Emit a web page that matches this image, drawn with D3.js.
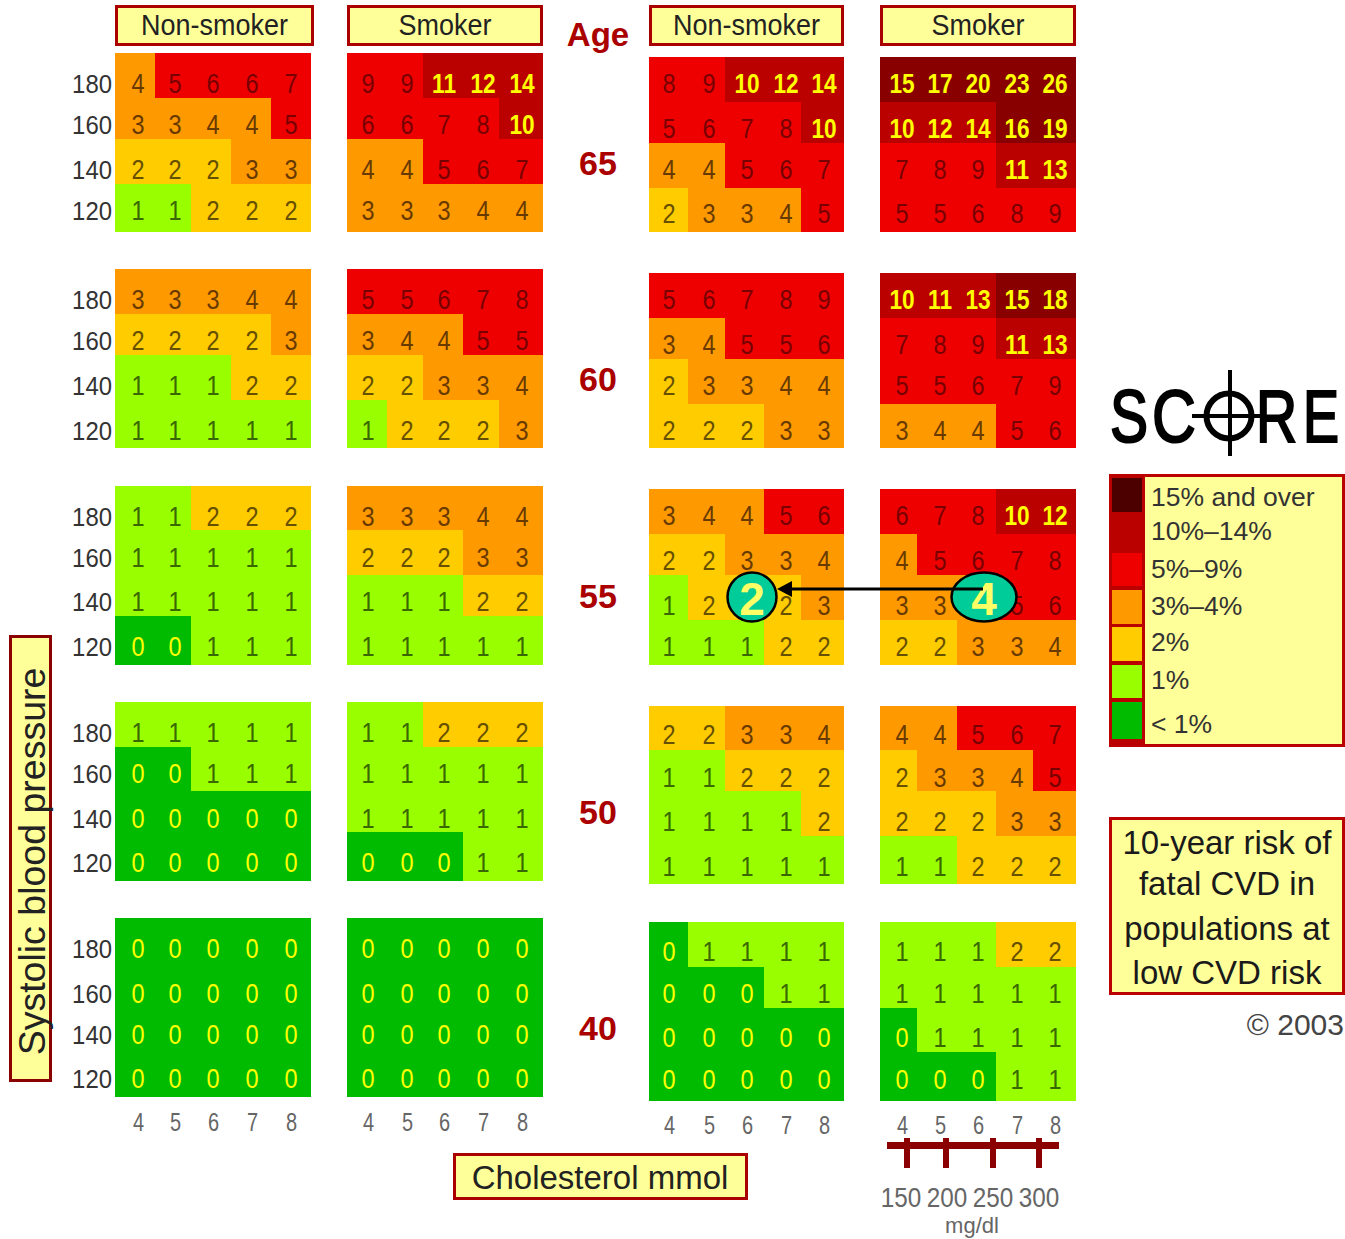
<!DOCTYPE html>
<html><head><meta charset="utf-8">
<script src="https://cdn.jsdelivr.net/npm/d3@7"></script>
<style>
html,body{margin:0;padding:0;background:#fff}
svg{display:block}
text{font-family:"Liberation Sans",Arial,sans-serif}
</style></head><body>
<svg id="c" width="1345" height="1239"></svg>
<script>
// ---------- data ----------
const ages = [65, 60, 55, 50, 40];
const sbpTicks = [180, 160, 140, 120];
const cholTicks = [4, 5, 6, 7, 8];
const mgTicks = [150, 200, 250, 300];
const headerLabels = ["Non-smoker", "Smoker", "Non-smoker", "Smoker"];
const legendLabels = ["15% and over", "10%\u201314%", "5%\u20139%", "3%\u20134%", "2%", "1%", "< 1%"];
const riskThresholds = [1, 2, 3, 5, 10, 15];
const riskColors = ["#00bb00", "#99ff00", "#ffcc00", "#ff9900", "#ee0000", "#bb0000", "#880000"];
const legendColors = ["#4d0000", "#bb0000", "#ee0000", "#ff9900", "#ffcc00", "#99ff00", "#00bb00"];
const titleLines = ["10-year risk of", "fatal CVD in", "populations at", "low CVD risk"];

const a_nonsmoker_65 = [[4,5,6,6,7],[3,3,4,4,5],[2,2,2,3,3],[1,1,2,2,2]];
const a_nonsmoker_60 = [[3,3,3,4,4],[2,2,2,2,3],[1,1,1,2,2],[1,1,1,1,1]];
const a_nonsmoker_55 = [[1,1,2,2,2],[1,1,1,1,1],[1,1,1,1,1],[0,0,1,1,1]];
const a_nonsmoker_50 = [[1,1,1,1,1],[0,0,1,1,1],[0,0,0,0,0],[0,0,0,0,0]];
const a_nonsmoker_40 = [[0,0,0,0,0],[0,0,0,0,0],[0,0,0,0,0],[0,0,0,0,0]];

const a_smoker_65 = [[9,9,11,12,14],[6,6,7,8,10],[4,4,5,6,7],[3,3,3,4,4]];
const a_smoker_60 = [[5,5,6,7,8],[3,4,4,5,5],[2,2,3,3,4],[1,2,2,2,3]];
const a_smoker_55 = [[3,3,3,4,4],[2,2,2,3,3],[1,1,1,2,2],[1,1,1,1,1]];
const a_smoker_50 = [[1,1,2,2,2],[1,1,1,1,1],[1,1,1,1,1],[0,0,0,1,1]];
const a_smoker_40 = [[0,0,0,0,0],[0,0,0,0,0],[0,0,0,0,0],[0,0,0,0,0]];

const b_nonsmoker_65 = [[8,9,10,12,14],[5,6,7,8,10],[4,4,5,6,7],[2,3,3,4,5]];
const b_nonsmoker_60 = [[5,6,7,8,9],[3,4,5,5,6],[2,3,3,4,4],[2,2,2,3,3]];
const b_nonsmoker_55 = [[3,4,4,5,6],[2,2,3,3,4],[1,2,2,2,3],[1,1,1,2,2]];
const b_nonsmoker_50 = [[2,2,3,3,4],[1,1,2,2,2],[1,1,1,1,2],[1,1,1,1,1]];
const b_nonsmoker_40 = [[0,1,1,1,1],[0,0,0,1,1],[0,0,0,0,0],[0,0,0,0,0]];

const b_smoker_65 = [[15,17,20,23,26],[10,12,14,16,19],[7,8,9,11,13],[5,5,6,8,9]];
const b_smoker_60 = [[10,11,13,15,18],[7,8,9,11,13],[5,5,6,7,9],[3,4,4,5,6]];
const b_smoker_55 = [[6,7,8,10,12],[4,5,6,7,8],[3,3,4,5,6],[2,2,3,3,4]];
const b_smoker_50 = [[4,4,5,6,7],[2,3,3,4,5],[2,2,2,3,3],[1,1,2,2,2]];
const b_smoker_40 = [[1,1,1,2,2],[1,1,1,1,1],[0,1,1,1,1],[0,0,0,1,1]];

const calloutFrom = 4, calloutTo = 2;

// ---------- layout ----------
const panels = [
  {grid:[a_nonsmoker_65,a_nonsmoker_60,a_nonsmoker_55,a_nonsmoker_50,a_nonsmoker_40],
   xEdges:[115,155,191,231,271,311], xLabels:[138,175,213,252,291], side:0, head:[115,314], tickY:1122},
  {grid:[a_smoker_65,a_smoker_60,a_smoker_55,a_smoker_50,a_smoker_40],
   xEdges:[347,387,423,463,499,543], xLabels:[368,407,444,483,522], side:0, head:[347,543], tickY:1122},
  {grid:[b_nonsmoker_65,b_nonsmoker_60,b_nonsmoker_55,b_nonsmoker_50,b_nonsmoker_40],
   xEdges:[649,688,725,764,801,844], xLabels:[669,709,747,786,824], side:1, head:[649,844], tickY:1125},
  {grid:[b_smoker_65,b_smoker_60,b_smoker_55,b_smoker_50,b_smoker_40],
   xEdges:[880,917,957,996,1033,1076], xLabels:[902,940,978,1017,1055], side:1, head:[880,1076], tickY:1125}
];
const yEdgesBySide = [
  [[53,98,139,184,232],[269,314,355,400,448],[486,530,575,616,665],[702,747,791,832,881],[918,963,1004,1049,1097]],
  [[57,102,143,188,232],[273,318,359,404,448],[489,534,575,620,665],[706,750,791,836,884],[922,967,1008,1052,1101]]
];
const yLabelsBySide = [
  [[83,124,169,210],[299,340,385,430],[516,557,601,646],[732,773,818,862],[948,993,1034,1078]],
  [[83,128,169,213],[299,344,385,430],[515,560,605,646],[734,777,821,866],[951,993,1037,1079]]
];
const ageY = [163,379,596,812,1028];

const svg = d3.select("#c");
const risk = d3.scaleThreshold().domain(riskThresholds).range(riskColors);
const digitColor = d3.scaleThreshold().domain(riskThresholds)
  .range(["#ffff00","#3a6800","#665000","#683a00","#780000","#ffff00","#ffff00"]);

function box(x0,y0,x1,y1,stroke,sw){
  return svg.append("rect").attr("x",x0+sw/2).attr("y",y0+sw/2).attr("width",x1-x0-sw).attr("height",y1-y0-sw)
    .attr("fill","#ffff99").attr("stroke",stroke).attr("stroke-width",sw);
}
function label(x,y,s,size,opt={}){
  return svg.append("text").attr("transform",`translate(${x},${y}) scale(${opt.sx||1},1)`).attr("dy","0.36em")
    .attr("text-anchor",opt.anchor||"middle").attr("font-size",size)
    .attr("font-weight",opt.weight||"normal").attr("fill",opt.fill||"#111").text(s);
}

// headers
panels.forEach((p,i)=>{
  box(p.head[0],5,p.head[1],46,"#aa0000",3);
  label((p.head[0]+p.head[1])/2,25,headerLabels[i],29,{fill:"#222",sx:.93});
});

// panels
panels.forEach(p=>{
  const x = d3.scaleLinear().domain(d3.range(6)).range(p.xEdges);
  const xl = d3.scaleLinear().domain(d3.range(5)).range(p.xLabels);
  p.grid.forEach((rows,ai)=>{
    const y = d3.scaleLinear().domain(d3.range(5)).range(yEdgesBySide[p.side][ai]);
    const yl = d3.scaleLinear().domain(d3.range(4)).range(yLabelsBySide[p.side][ai]);
    const g = svg.append("g");
    const cells = rows.flatMap((r,ri)=>r.map((v,ci)=>({v,ri,ci})));
    g.selectAll("rect").data(cells).join("rect")
      .attr("x",d=>x(d.ci)).attr("y",d=>y(d.ri))
      .attr("width",d=>x(d.ci+1)-x(d.ci)).attr("height",d=>y(d.ri+1)-y(d.ri))
      .attr("fill",d=>risk(d.v));
    g.selectAll("text").data(cells).join("text")
      .attr("transform",d=>`translate(${xl(d.ci)},${yl(d.ri)}) scale(.84,1)`).attr("dy","0.36em")
      .attr("text-anchor","middle").attr("font-size",d=>d.v>=10?27:28)
      .attr("font-weight",d=>d.v>=10?"bold":"normal")
      .attr("fill",d=>digitColor(d.v)).text(d=>d.v);
  });
  // x axis of the panel
  const ax = d3.axisBottom(xl).tickValues(d3.range(5)).tickFormat(i=>cholTicks[i]).tickSize(0).tickPadding(0);
  const ag = svg.append("g").attr("transform",`translate(0,${p.tickY})`).call(ax);
  ag.select(".domain").remove();
  ag.selectAll("text").attr("y",0).attr("font-size",25).attr("fill","#666").attr("dy","0.36em").attr("transform","scale(.8,1)");
});

// y axes
yLabelsBySide[0].forEach(ys=>{
  const yl = d3.scaleLinear().domain(d3.range(4)).range(ys);
  const ay = d3.axisLeft(yl).tickValues(d3.range(4)).tickFormat(i=>sbpTicks[i]).tickSize(0).tickPadding(0);
  const g = svg.append("g").attr("transform","translate(112,0)").call(ay);
  g.select(".domain").remove();
  g.selectAll("text").attr("x",0).attr("font-size",26).attr("fill","#333").attr("dy","0.36em").attr("transform","scale(.92,1)");
});

// Age column
label(598,34,"Age",33,{weight:"bold",fill:"#aa0000"});
ages.forEach((a,i)=>label(598,ageY[i],a,34,{weight:"bold",fill:"#aa0000"}));

// y title
box(9,635,52,1082,"#8b0000",3);
svg.append("text").attr("transform","translate(31,861.5) rotate(-90)").attr("dy","0.36em")
  .attr("text-anchor","middle").attr("font-size",37.5).attr("fill","#222").text("Systolic blood pressure");

// x title
box(453,1153,748,1200,"#aa0000",3);
label(600,1177,"Cholesterol mmol",33,{fill:"#222"});

// mg/dl scale
const mgX = d3.scaleOrdinal().domain(mgTicks).range([907,946,993,1039]);
const mgL = d3.scaleOrdinal().domain(mgTicks).range([901,947,993,1039]);
svg.append("rect").attr("x",887).attr("y",1142).attr("width",172).attr("height",7).attr("fill","#8b0000");
svg.selectAll(".mgt").data(mgTicks).join("rect").attr("class","mgt")
  .attr("x",d=>mgX(d)-3).attr("y",1138).attr("width",6).attr("height",30).attr("fill","#8b0000");
svg.selectAll(".mgl").data(mgTicks).join("text").attr("class","mgl")
  .attr("transform",d=>`translate(${mgL(d)},1197) scale(.9,1)`).attr("dy","0.36em").attr("text-anchor","middle")
  .attr("font-size",27).attr("fill","#666").text(d=>d);
label(972,1225,"mg/dl",22,{fill:"#666"});

// SCORE logo
const logoLetters = [["S",1110,.77],["C",1152,.82],["R",1256,.77],["E",1303,.73]];
logoLetters.forEach(([c,x0,sx])=>{
  svg.append("text").attr("transform",`translate(${x0},442) scale(${sx},1)`).attr("font-size",74)
    .attr("fill","#000").attr("stroke","#000").attr("stroke-width",2.2).text(c);
});
svg.append("circle").attr("cx",1229).attr("cy",416).attr("r",22.5).attr("fill","none").attr("stroke","#000").attr("stroke-width",6);
svg.append("line").attr("x1",1192).attr("x2",1262).attr("y1",416).attr("y2",416).attr("stroke","#000").attr("stroke-width",4);
svg.append("line").attr("x1",1230).attr("x2",1230).attr("y1",370).attr("y2",456).attr("stroke","#000").attr("stroke-width",4);

// legend
box(1109,474,1345,747,"#bb0000",3);
svg.append("rect").attr("x",1109).attr("y",474).attr("width",36).attr("height",273).attr("fill","#bb0000");
const swEdges = [[478,512],[512,553],[553,586],[590,624],[627,661],[665,698],[702,739]];
const legY = [497,531,569,606,642,680,724];
svg.selectAll(".sw").data(legendColors).join("rect").attr("class","sw")
  .attr("x",1112).attr("width",30).attr("y",(d,i)=>swEdges[i][0]).attr("height",(d,i)=>swEdges[i][1]-swEdges[i][0]).attr("fill",d=>d);
svg.selectAll(".lt").data(legendLabels).join("text").attr("class","lt")
  .attr("x",1151).attr("y",(d,i)=>legY[i]).attr("dy","0.33em").attr("font-size",26.5).attr("fill","#333").text(d=>d);

// title box
box(1109,817,1345,995,"#bb0000",3);
const titleY = [842,883,928,972];
svg.selectAll(".tt").data(titleLines).join("text").attr("class","tt")
  .attr("x",1227).attr("y",(d,i)=>titleY[i]).attr("dy","0.36em").attr("text-anchor","middle")
  .attr("font-size",33).attr("fill","#1a1a1a").text(d=>d);
label(1344,1024,"\u00a9 2003",30,{anchor:"end",fill:"#444"});

// callout
[[984,32.5,calloutFrom],[752,24.5,calloutTo]].forEach(([cx,rx,v])=>{
  svg.append("ellipse").attr("cx",cx).attr("cy",597).attr("rx",rx).attr("ry",24.5)
    .attr("fill","#00cc99").attr("stroke","#000").attr("stroke-width",2.5);
  label(cx,598,v,46,{weight:"bold",fill:"#ffff66"});
});
svg.append("line").attr("x1",983).attr("x2",790).attr("y1",589).attr("y2",589).attr("stroke","#000").attr("stroke-width",3);
svg.append("path").attr("d",d3.line()([[777,589],[792,581],[792,597]])+"Z").attr("fill","#000");
</script>
</body></html>
